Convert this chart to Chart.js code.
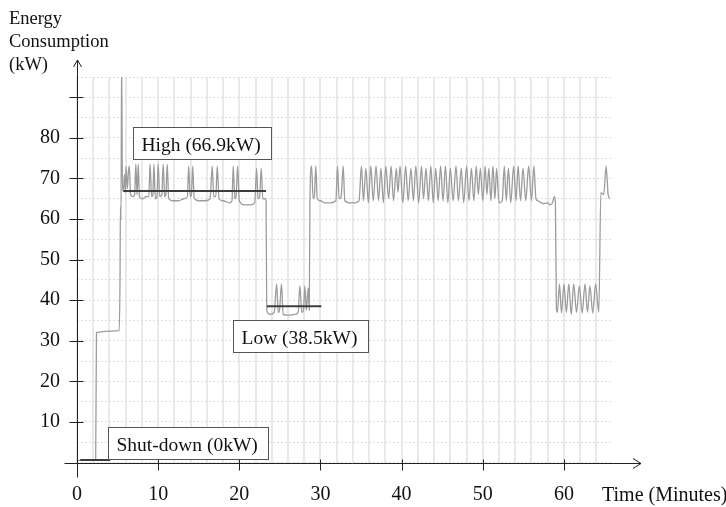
<!DOCTYPE html>
<html>
<head>
<meta charset="utf-8">
<title>Energy consumption</title>
<script src="https://cdn.jsdelivr.net/npm/chart.js@4.4.0/dist/chart.umd.min.js"></script>
<style>
  html, body { margin: 0; padding: 0; background: #fff; }
  #wrap { position: relative; width: 726px; height: 507px; }
</style>
</head>
<body>
<div id="wrap"><canvas id="chart"></canvas></div>
<script>
// time in minutes / power in kW
const minutes = [
  0, 2.3, 2.4, 5.2, 5.3, 5.35, 5.42, 5.5, 5.6, 5.75, 5.85, 5.95, 6.05, 6.2, 6.35, 6.45, 6.6, 6.9,
  7.1, 7.25, 7.4, 7.55, 7.7, 8.1, 8.5, 8.85, 9.0, 9.2, 9.35, 9.48, 9.65, 9.85, 10.0, 10.2, 10.45,
  10.62, 10.8, 10.95, 11.12, 11.3, 11.8, 12.5, 13.2, 13.6, 13.76, 13.95, 14.1, 14.25, 14.45, 15.0,
  15.8, 16.4, 16.66, 16.85, 17.1, 17.28, 17.5, 18.0, 18.8, 19.1, 19.25, 19.45, 19.6, 19.79, 20.0,
  20.6, 21.3, 21.9, 22.13, 22.3, 22.5, 22.7, 22.9, 23.2, 23.3,
  23.38, 23.8, 24.3, 24.6, 24.8, 24.95, 25.2, 25.4, 26.0, 26.8, 27.25, 27.46, 27.7, 27.9, 28.08,
  28.25, 28.49, 28.62,
  28.7, 28.9, 29.1, 29.25, 29.43, 29.6, 30.0, 30.5, 31.2, 31.9, 32.1, 32.3, 32.55, 32.8, 33.0, 33.6,
  34.2, 34.75,
  35.05, 35.3, 35.6, 35.9, 36.2, 36.5, 36.85, 37.15, 37.45, 37.75, 38.05, 38.4, 38.7, 39.0, 39.35,
  39.55, 39.8, 40.15, 40.5, 40.8, 41.15, 41.45, 41.75, 42.1, 42.45, 42.7, 43.0, 43.3, 43.6, 43.9,
  44.2, 44.5, 44.8, 45.1, 45.4, 45.7, 46.0, 46.35, 46.7, 47.0, 47.35, 47.65, 48.0, 48.3, 48.6, 48.9,
  49.2, 49.45, 49.7, 50.0, 50.3, 50.5, 50.75, 51.0, 51.25, 51.5, 51.7, 52.0, 52.4, 52.65, 52.9,
  53.15, 53.45, 53.8, 54.1, 54.35, 54.65, 54.95, 55.3, 55.65, 56.0, 56.3, 56.55, 56.8, 57.2, 57.6,
  58.0, 58.3, 58.6, 58.8, 58.95,
  59.07, 59.2, 59.45, 59.7, 60.0, 60.3, 60.6, 60.9, 61.2, 61.55, 61.9, 62.25, 62.6, 62.9, 63.2,
  63.55, 63.9, 64.3,
  64.55, 64.9, 65.2, 65.45, 65.65
];
const powerKW = [
  0.5, 0.5, 32, 32.5, 45, 63, 60, 100, 67, 68, 71, 66.5, 73, 67.5, 72, 73, 66, 65.5,
  66, 73.5, 66, 73.5, 65.5, 65, 65.5, 65.5, 73.5, 65.5, 66, 73.5, 65, 65.5, 73.5, 65.5, 66,
  73.5, 65.5, 66, 73.5, 65, 64.5, 64.5, 65, 65.5, 73, 65.5, 66, 73, 65, 64.5,
  64.5, 65, 73, 65.5, 65.5, 73, 65, 64.5, 64, 64.5, 73, 65, 65.5, 73, 64.5,
  63.5, 63.5, 64, 72.5, 65, 65.5, 72.5, 65, 65, 64.5,
  37.5, 36.5, 37, 44, 37, 37.5, 44, 36.5, 36.3, 36.5, 37, 43.5, 37, 37.5, 43.5,
  37.5, 43, 37.5,
  64, 73, 65, 65.5, 73, 65, 64.5, 64, 64, 64.5, 73, 65, 65.5, 73, 64.5, 64,
  64, 64.5,
  73, 64.5, 72.5, 64, 73, 64.5, 73, 64.5, 72.5, 64, 73, 65, 73, 64.5, 72.5,
  66.5, 73, 64, 73, 64.5, 72.5, 64.5, 73, 64, 73, 65, 72.5, 64.5, 73, 64,
  72.5, 64.5, 73, 64.5, 73, 64, 72.5, 64.5, 73, 64.5, 72.5, 64, 73, 64.5, 72.5, 64.5,
  73, 66, 72.5, 64.5, 73, 66, 72.5, 64.5, 73, 65, 72.5, 64, 64.5, 73, 64.5,
  72.5, 64, 73, 64.5, 73, 64.5, 72.5, 64.5, 73, 64.5, 73, 65, 64.5, 64, 63.8,
  64, 63.5, 64, 65.5, 64.5,
  38, 37, 44, 36.8, 44, 37, 44, 36.5, 44, 37, 43.5, 36.8, 44, 37, 43.5,
  36.8, 44, 37,
  66.5, 66, 73, 66, 65
];

// operating levels marked on the chart
const levelNames = ['Shut-down (0kW)', 'High (66.9kW)', 'Low (38.5kW)'];
const levelKW = [0.6, 66.9, 38.5];
const levelStart = [0.4, 5.7, 23.4];
const levelEnd = [4.1, 23.3, 30.1];

const xTickLabels = [0, 10, 20, 30, 40, 50, 60];
const yTickLabels = [10, 20, 30, 40, 50, 60, 70, 80];
const yTickMarks = [10, 20, 30, 40, 50, 60, 70, 80, 90];

const trace = minutes.map((m, i) => ({ x: m, y: powerKW[i] }));

const levelSets = levelKW.map((kw, i) => ({
  label: levelNames[i],
  data: [{ x: levelStart[i], y: kw }, { x: levelEnd[i], y: kw }],
  borderColor: '#3c3c3c',
  borderWidth: 2,
  pointRadius: 0,
  order: 1
}));

// axes with arrows, tick marks and the boxed level captions
const decorations = {
  id: 'decorations',
  afterDraw(chart) {
    const { ctx, scales: { x, y } } = chart;
    const ox = Math.round(x.getPixelForValue(0)) + 0.5;
    const oy = Math.round(y.getPixelForValue(0)) + 0.5;
    ctx.save();
    ctx.strokeStyle = '#222';
    ctx.lineWidth = 1;
    ctx.beginPath();
    ctx.moveTo(ox - 13, oy); ctx.lineTo(641, oy);
    ctx.moveTo(633, oy - 5); ctx.lineTo(641, oy); ctx.lineTo(633, oy + 5);
    ctx.moveTo(ox, oy + 14); ctx.lineTo(ox, 60);
    ctx.moveTo(ox - 4, 67); ctx.lineTo(ox, 60); ctx.lineTo(ox + 4, 67);
    xTickLabels.slice(1).forEach(v => {
      const px = Math.round(x.getPixelForValue(v)) + 0.5;
      ctx.moveTo(px, oy - 4); ctx.lineTo(px, oy + 7);
    });
    yTickMarks.forEach(v => {
      const py = Math.round(y.getPixelForValue(v)) + 0.5;
      ctx.moveTo(ox - 8, py); ctx.lineTo(ox + 6, py);
    });
    ctx.stroke();

    ctx.fillStyle = '#111';
    ctx.font = '18.5px "Liberation Serif"';
    ctx.textBaseline = 'alphabetic';
    ctx.fillText('Energy', 9, 24);
    ctx.fillText('Consumption', 9, 47);
    ctx.fillText('(kW)', 9, 70);
    ctx.font = '20px "Liberation Serif"';
    ctx.fillText('Time (Minutes)', 602, 501);

    // caption boxes: [minute, kW] of the top-left corner
    const anchors = [[3.78, 8.67], [6.86, 82.6], [19.25, 35.1]];
    ctx.font = '19.5px "Liberation Serif"';
    levelNames.forEach((name, i) => {
      const bx = Math.round(x.getPixelForValue(anchors[i][0])) + 0.5;
      const by = Math.round(y.getPixelForValue(anchors[i][1])) + 0.5;
      const w = Math.round(ctx.measureText(name).width) + 19;
      ctx.fillStyle = '#fff';
      ctx.fillRect(bx, by, w, 32);
      ctx.strokeStyle = '#555';
      ctx.strokeRect(bx, by, w, 32);
      ctx.fillStyle = '#111';
      ctx.fillText(name, bx + 8, by + 23);
    });
    ctx.restore();
  }
};

Chart.defaults.font.family = '"Liberation Serif"';
Chart.defaults.color = '#111';

new Chart(document.getElementById('chart'), {
  type: 'line',
  data: {
    datasets: [{
      label: 'Energy consumption',
      data: trace,
      borderColor: '#9c9c9c',
      borderWidth: 1.3,
      pointRadius: 0,
      cubicInterpolationMode: 'monotone',
      order: 2
    }, ...levelSets]
  },
  options: {
    responsive: true,
    maintainAspectRatio: false,
    animation: false,
    layout: { padding: { left: 0, top: 77, right: 115, bottom: 0 } },
    plugins: { legend: { display: false }, tooltip: { enabled: false } },
    scales: {
      x: {
        type: 'linear',
        min: 0,
        max: 65.8,
        afterFit(scale) { scale.height = 44.5; },
        grid: { color: '#e9e9e9', lineWidth: 2, drawTicks: false },
        border: { display: false },
        ticks: {
          stepSize: 2,
          includeBounds: false,
          autoSkip: false,
          maxRotation: 0,
          padding: 20,
          font: { size: 20 },
          callback: v => xTickLabels.includes(v) ? String(v) : ''
        }
      },
      y: {
        min: 0,
        max: 95,
        afterFit(scale) { scale.width = 77; },
        grid: { color: '#dedede', lineWidth: 1, drawTicks: false },
        border: { display: false, dash: [2, 2] },
        ticks: {
          stepSize: 5,
          autoSkip: false,
          padding: 17,
          font: { size: 20 },
          callback: v => yTickLabels.includes(v) ? String(v) : ''
        }
      }
    }
  },
  plugins: [decorations]
});
</script>
</body>
</html>
